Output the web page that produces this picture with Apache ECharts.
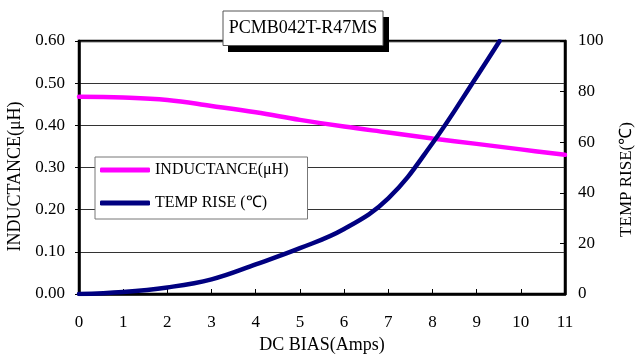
<!DOCTYPE html>
<html>
<head>
<meta charset="utf-8">
<script src="https://cdn.jsdelivr.net/npm/echarts@6/dist/echarts.min.js"></script>
<style>html,body{margin:0;padding:0;background:#fff}#c{width:639px;height:354px}</style>
</head>
<body>
<div id="c"></div>
<script>
var titleText = 'PCMB042T-R47MS';
var xName = 'DC BIAS(Amps)';
var yLeftName = 'INDUCTANCE(μH)';
var yRightName = 'TEMP RISE(℃)';
var inductanceName = 'INDUCTANCE(μH)';
var tempName = 'TEMP RISE (℃)';

var indX = [0, 1, 2, 3, 4, 5, 6, 7, 8, 9, 10, 11];
var indY = [0.468, 0.466, 0.460, 0.446, 0.431, 0.413, 0.397, 0.383, 0.369, 0.356, 0.343, 0.330];

var tempX = [0, 1, 2, 3, 4, 5, 6, 7, 8, 9, 9.52];
var tempY = [0, 0.8, 2.6, 5.8, 11.7, 18.1, 25.7, 37.8, 59.6, 85.9, 100];

function pairs(xs, ys) { return xs.map(function (x, i) { return [x, ys[i]]; }); }

var FONT = '"Liberation Serif", "Times New Roman", serif';
var chart = echarts.init(document.getElementById('c'));
chart.setOption({
  animation: false,
  backgroundColor: '#fff',
  textStyle: { fontFamily: FONT, color: '#000' },
  grid: { left: 79, right: 74, top: 41, bottom: 60, outerBoundsMode: 'none', containLabel: false, show: true, borderColor: '#000', borderWidth: 2.5, backgroundColor: 'transparent' },
  legend: {
    orient: 'vertical', left: 95, top: 157,
    backgroundColor: '#fff', borderColor: '#777', borderWidth: 1,
    padding: [5, 19, 8, 5], itemGap: 17,
    itemWidth: 50, itemHeight: 5, icon: 'roundRect',
    textStyle: { fontFamily: FONT, fontSize: 16, color: '#000' },
    data: [inductanceName, tempName]
  },
  xAxis: {
    type: 'value', min: 0, max: 11, interval: 1,
    name: xName, nameLocation: 'middle', nameGap: 42,
    nameTextStyle: { fontFamily: FONT, fontSize: 18, color: '#000' },
    axisLine: { show: true, lineStyle: { color: '#000', width: 2.5 } },
    axisTick: { show: true, inside: true, length: 5, lineStyle: { color: '#000', width: 1 } },
    axisLabel: { margin: 20, fontFamily: FONT, fontSize: 17, color: '#000' },
    splitLine: { show: false }
  },
  yAxis: [{
    type: 'value', min: 0, max: 0.6, interval: 0.1, position: 'left',
    name: yLeftName, nameLocation: 'middle', nameRotate: 90, nameGap: 53,
    nameTextStyle: { fontFamily: FONT, fontSize: 18, color: '#000', padding: [0, 18, 0, 0] },
    axisLine: { show: true, lineStyle: { color: '#000', width: 2.5 } },
    axisTick: { show: true, inside: false, length: 4, lineStyle: { color: '#000', width: 1 } },
    axisLabel: { margin: 14, fontFamily: FONT, fontSize: 17, color: '#000', formatter: function (v) { return v.toFixed(2); } },
    splitLine: { show: true, lineStyle: { color: '#333', width: 1 } }
  }, {
    type: 'value', min: 0, max: 100, interval: 20, position: 'right',
    name: yRightName, nameLocation: 'middle', nameRotate: 90, nameGap: 53,
    nameTextStyle: { fontFamily: FONT, fontSize: 17, color: '#000', padding: [0, 24, 0, 0] },
    axisLine: { show: true, lineStyle: { color: '#000', width: 2.5 } },
    axisTick: { show: true, inside: true, length: 5, lineStyle: { color: '#000', width: 1 } },
    axisLabel: { margin: 13, fontFamily: FONT, fontSize: 17, color: '#000' },
    splitLine: { show: false }
  }],
  series: [{
    name: inductanceName, type: 'line', yAxisIndex: 0, smooth: 0.4, symbol: 'none',
    data: pairs(indX, indY),
    lineStyle: { color: '#FF00FF', width: 4.5, cap: 'round' },
    itemStyle: { color: '#FF00FF' }
  }, {
    name: tempName, type: 'line', yAxisIndex: 1, smooth: 0.4, symbol: 'none',
    data: pairs(tempX, tempY),
    lineStyle: { color: '#000080', width: 4.5, cap: 'round' },
    itemStyle: { color: '#000080' }
  }],
  graphic: [
    { type: 'rect', z: 100, shape: { x: 228, y: 17, width: 161, height: 35 }, style: { fill: '#000' } },
    { type: 'rect', z: 101, shape: { x: 223, y: 11, width: 160, height: 34.5 }, style: { fill: '#fff', stroke: '#555', lineWidth: 1 } },
    { type: 'text', z: 102, x: 303, y: 28.5, style: { text: titleText, fontFamily: FONT, fontSize: 18, fill: '#000', align: 'center', verticalAlign: 'middle' } }
  ]
});
</script>
</body>
</html>
